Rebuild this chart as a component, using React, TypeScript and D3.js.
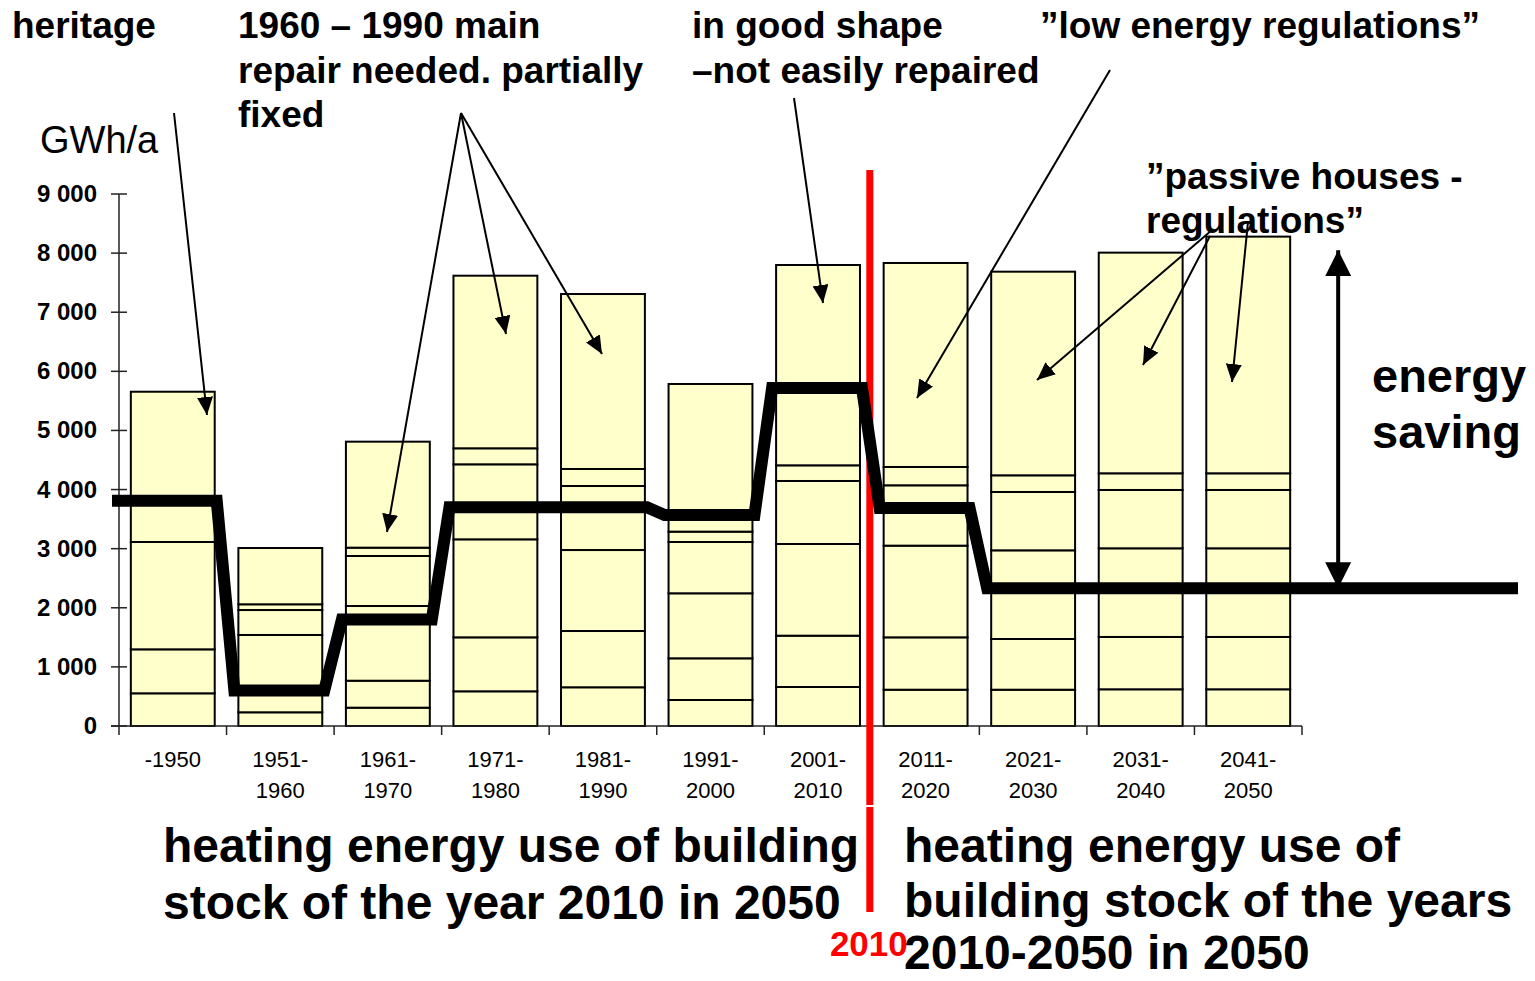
import React from "react";
import * as d3 from "d3";

const categories = ["-1950", "1951-1960", "1961-1970", "1971-1980", "1981-1990", "1991-2000", "2001-2010", "2011-2020", "2021-2030", "2031-2040", "2041-2050"];
const tickLine1 = ["-1950", "1951-", "1961-", "1971-", "1981-", "1991-", "2001-", "2011-", "2021-", "2031-", "2041-"];
const tickLine2 = ["", "1960", "1970", "1980", "1990", "2000", "2010", "2020", "2030", "2040", "2050"];

// stacked segments of each bar (GWh/a)
const seg1 = [553, 232, 310, 587, 655, 440, 660, 614, 614, 621, 621];
const seg2 = [744, 368, 456, 913, 952, 705, 868, 886, 858, 885, 885];
const seg3 = [1816, 940, 1264, 1658, 1370, 1100, 1551, 1551, 1500, 1500, 1500];
const seg4 = [0, 422, 846, 1269, 1083, 868, 1066, 1021, 987, 987, 987];
const seg5 = [0, 97, 141, 271, 288, 175, 265, 310, 282, 282, 282];
const seg6 = [2542, 952, 1793, 2920, 2960, 2498, 3389, 3451, 3445, 3733, 4004];

// heating energy use in 2050 (thick line)
const energy2050 = [3810, 600, 1800, 3700, 3700, 3570, 5720, 3690, 2330, 2330, 2330];

const yTicks = [0, 1000, 2000, 3000, 4000, 5000, 6000, 7000, 8000, 9000];

const W = 1535;
const H = 981;
const FONT = "'Liberation Sans', Arial, sans-serif";

export default function App() {
  const x = d3.scaleBand<string>().domain(categories).range([119, 1302]).paddingInner(0.22).paddingOuter(0.11);
  const y = d3.scaleLinear().domain([0, 9000]).range([726, 194]);
  const step = x.step();
  const bw = x.bandwidth();

  const rows = categories.map((c, i) => ({ cat: c, s1: seg1[i], s2: seg2[i], s3: seg3[i], s4: seg4[i], s5: seg5[i], s6: seg6[i] }));
  const keys = ["s1", "s2", "s3", "s4", "s5", "s6"];
  const stacked = d3.stack<any>().keys(keys)(rows);

  const fmt = (v: number) => (v === 0 ? "0" : d3.format(",")(v).replace(/,/g, " "));

  // thick step line
  const pts: [number, number][] = [];
  categories.forEach((c, i) => {
    const x0 = x(c)!;
    const left = i === 0 ? 112 : x0 - 4;
    const right = x0 + bw + 2;
    pts.push([left, y(energy2050[i])]);
    if (i < categories.length - 1) pts.push([right, y(energy2050[i])]);
  });
  pts.push([1518, y(energy2050[energy2050.length - 1])]);
  const line = d3.line();

  const boundaries = d3.range(categories.length + 1).map((k) => 119 + k * step);
  const redX = x("2011-2020")! - (step - bw) / 2;

  const lastX = x(categories[categories.length - 1])! + bw;
  const savingX = lastX + 48;
  const savingTop = 8050;
  const savingBottom = energy2050[energy2050.length - 1];

  const arrows: [number, number, number, number][] = [
    [174, 113, 207, 415],
    [461, 113, 387, 532],
    [461, 113, 506, 334],
    [461, 113, 602, 354],
    [794, 98, 823, 303],
    [1110, 70, 917, 398],
    [1212, 230, 1037, 380],
    [1210, 236, 1143, 365],
    [1248, 222, 1232, 382],
  ];

  const bold = { fontFamily: FONT, fontWeight: 700 as const, fill: "#000" };

  return (
    <svg width={W} height={H} style={{ position: "absolute", left: 0, top: 0, background: "#fff" }}>
      <defs>
        <marker id="arr" markerUnits="userSpaceOnUse" markerWidth={20} markerHeight={16} refX={18} refY={8} orient="auto">
          <path d="M0,0 L18,8 L0,16 z" fill="#000" />
        </marker>
        <marker id="big" markerUnits="userSpaceOnUse" markerWidth={28} markerHeight={26} refX={26} refY={13} orient="auto-start-reverse">
          <path d="M0,0 L26,13 L0,26 z" fill="#000" />
        </marker>
      </defs>

      {/* bars */}
      {stacked.map((layer) =>
        layer.map((d, i) => (
          <rect
            key={layer.key + i}
            x={x(categories[i])!}
            y={y(d[1])}
            width={bw}
            height={Math.max(0, y(d[0]) - y(d[1]))}
            fill="#FFFFCC"
            stroke="#000"
            strokeWidth={2}
          />
        ))
      )}

      {/* axes */}
      <line x1={119} x2={119} y1={194} y2={726} stroke="#222" strokeWidth={1.5} />
      <line x1={111} x2={1302} y1={726} y2={726} stroke="#222" strokeWidth={1.5} />
      {yTicks.map((t) => (
        <g key={t}>
          <line x1={111} x2={127} y1={y(t)} y2={y(t)} stroke="#222" strokeWidth={1.5} />
          <text x={97} y={y(t) + 8} textAnchor="end" fontSize={24} {...bold}>
            {fmt(t)}
          </text>
        </g>
      ))}
      {boundaries.map((b, k) => (
        <line key={k} x1={b} x2={b} y1={726} y2={735} stroke="#222" strokeWidth={1.5} />
      ))}
      {categories.map((c, i) => (
        <g key={c}>
          <text x={x(c)! + bw / 2} y={767} textAnchor="middle" fontSize={22} fontFamily={FONT}>
            {tickLine1[i]}
          </text>
          <text x={x(c)! + bw / 2} y={798} textAnchor="middle" fontSize={22} fontFamily={FONT}>
            {tickLine2[i]}
          </text>
        </g>
      ))}

      {/* red 2010 line */}
      <line x1={redX - 2} x2={redX - 2} y1={170} y2={805} stroke="#FF0000" strokeWidth={7} />
      <line x1={redX - 2} x2={redX - 2} y1={807} y2={912} stroke="#FF0000" strokeWidth={7} />
      <text x={redX - 3} y={956} textAnchor="middle" fontSize={35} fontFamily={FONT} fontWeight={700} fill="#FF0000">
        2010
      </text>

      {/* thick line */}
      <path d={line(pts)!} fill="none" stroke="#000" strokeWidth={12} strokeLinejoin="miter" strokeMiterlimit={2} />

      {/* annotation arrows */}
      {arrows.map(([x1, y1, x2, y2], k) => (
        <line key={k} x1={x1} y1={y1} x2={x2} y2={y2} stroke="#000" strokeWidth={2} markerEnd="url(#arr)" />
      ))}
      <line x1={savingX} x2={savingX} y1={y(savingTop)} y2={y(savingBottom)} stroke="#000" strokeWidth={4} markerStart="url(#big)" markerEnd="url(#big)" />

      {/* texts */}
      <text x={40} y={153} fontSize={38} fontFamily={FONT} fill="#000">GWh/a</text>
      <text x={12} y={38} fontSize={37} {...bold}>heritage</text>
      <text x={238} y={38} fontSize={37} {...bold}>1960 – 1990 main</text>
      <text x={238} y={83} fontSize={37} {...bold}>repair needed. partially</text>
      <text x={238} y={127} fontSize={37} {...bold}>fixed</text>
      <text x={692} y={38} fontSize={37} {...bold}>in good shape</text>
      <text x={692} y={83} fontSize={37} {...bold}>–not easily repaired</text>
      <text x={1040} y={38} fontSize={37} {...bold}>”low energy regulations”</text>
      <text x={1146} y={189} fontSize={37} {...bold}>”passive houses -</text>
      <text x={1146} y={233} fontSize={37} {...bold}>regulations”</text>
      <text x={1372} y={392} fontSize={47} {...bold}>energy</text>
      <text x={1372} y={448} fontSize={47} {...bold}>saving</text>
      <text x={163} y={862} fontSize={48} {...bold}>heating energy use of building</text>
      <text x={163} y={919} fontSize={48} {...bold}>stock of the year 2010 in 2050</text>
      <text x={904} y={862} fontSize={48} {...bold}>heating energy use of</text>
      <text x={904} y={917} fontSize={48} {...bold}>building stock of the years</text>
      <text x={904} y={969} fontSize={48} {...bold}>2010-2050 in 2050</text>
    </svg>
  );
}
